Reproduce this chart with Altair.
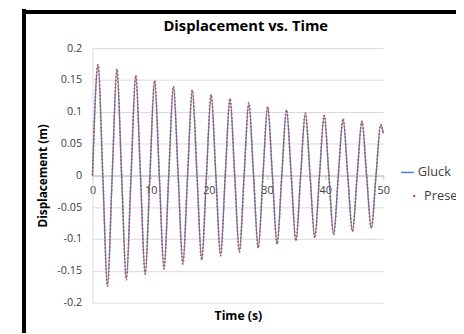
import altair as alt
import pandas as pd

# ---- data ----
time_s = [0.00, 0.96, 1.77, 2.58, 3.39, 4.20, 5.01, 5.82, 6.63, 7.44, 8.25, 9.06,
          9.87, 10.68, 11.49, 12.30, 13.11, 13.92, 14.73, 15.54, 16.35, 17.16,
          17.97, 18.78, 19.59, 20.40, 21.21, 22.02, 22.83, 23.64, 24.45, 25.26,
          26.07, 26.88, 27.69, 28.50, 29.31, 30.12, 30.93, 31.74, 32.55, 33.36,
          34.17, 34.98, 35.79, 36.60, 37.41, 38.22, 39.03, 39.84, 40.65, 41.46,
          42.27, 43.08, 43.89, 44.70, 45.51, 46.32, 47.13, 47.94, 48.75, 49.56,
          50.00]
gluck_m = [0.000, 0.174, 0.000, -0.174, 0.000, 0.167, 0.000, -0.164, 0.000, 0.157,
           0.000, -0.155, 0.000, 0.149, 0.000, -0.147, 0.000, 0.140, 0.000, -0.139,
           0.000, 0.134, 0.000, -0.133, 0.000, 0.127, 0.000, -0.126, 0.000, 0.121,
           0.000, -0.120, 0.000, 0.114, 0.000, -0.114, 0.000, 0.108, 0.000, -0.108,
           0.000, 0.103, 0.000, -0.103, 0.000, 0.098, 0.000, -0.098, 0.000, 0.094,
           0.000, -0.093, 0.000, 0.089, 0.000, -0.088, 0.000, 0.085, 0.000, -0.083,
           0.000, 0.080, 0.066]
present_m = [0.000, 0.174, 0.000, -0.174, 0.000, 0.167, 0.000, -0.164, 0.000, 0.157,
             0.000, -0.155, 0.000, 0.149, 0.000, -0.147, 0.000, 0.140, 0.000, -0.139,
             0.000, 0.134, 0.000, -0.133, 0.000, 0.127, 0.000, -0.126, 0.000, 0.121,
             0.000, -0.120, 0.000, 0.114, 0.000, -0.114, 0.000, 0.108, 0.000, -0.108,
             0.000, 0.103, 0.000, -0.103, 0.000, 0.098, 0.000, -0.098, 0.000, 0.094,
             0.000, -0.093, 0.000, 0.089, 0.000, -0.088, 0.000, 0.085, 0.000, -0.083,
             0.000, 0.080, 0.066]
series_names = ["Gluck", "Present"]
series_colors = ["#4F81BD", "#C0504D"]
x_ticks = [0, 10, 20, 30, 40, 50]
y_ticks = [-0.2, -0.15, -0.1, -0.05, 0, 0.05, 0.1, 0.15, 0.2]
chart_title = "Displacement vs. Time"

df = pd.concat([
    pd.DataFrame({"t": time_s, "d": gluck_m, "series": series_names[0]}),
    pd.DataFrame({"t": time_s, "d": present_m, "series": series_names[1]}),
])

FONT = "Open Sans"
W, H = 296, 259

x_enc = alt.X("t:Q", scale=alt.Scale(domain=[0, 50], nice=False),
              axis=alt.Axis(values=x_ticks, offset=-129.5, grid=False,
                            title="Time (s)", titleY=143, titleBaseline="middle",
                            titleFontWeight="bold", titleFontSize=12.5,
                            labelFontSize=11, labelColor="#404040",
                            tickSize=4, tickColor="#BFBFBF", labelPadding=5,
                            domainColor="#BFBFBF", labelFlush=False))
y_enc = alt.Y("d:Q", scale=alt.Scale(domain=[-0.2, 0.2], nice=False),
              axis=alt.Axis(values=y_ticks, grid=True, gridColor="#D9D9D9",
                            labelExpr="datum.value < 0 ? '-' + format(-datum.value, '~g') : format(datum.value, '~g')",
                            title="Displacement (m)", titleFontWeight="bold",
                            titleFontSize=12, titlePadding=7,
                            labelFontSize=11, labelColor="#404040",
                            ticks=False, labelPadding=11,
                            domainColor="#D9D9D9"))

gluck_color = alt.Color("series:N",
                        scale=alt.Scale(domain=series_names[:1], range=series_colors[:1]),
                        legend=alt.Legend(title=None, orient="none", legendX=313, legendY=119,
                                          symbolType="stroke", symbolSize=169,
                                          symbolStrokeWidth=1.5, labelFontSize=13,
                                          labelColor="#404040", labelOffset=3))
present_color = alt.Color("series:N",
                          scale=alt.Scale(domain=series_names[1:], range=series_colors[1:]),
                          legend=alt.Legend(title=None, orient="none", legendX=321, legendY=144,
                                            symbolType="circle", symbolSize=6,
                                            symbolStrokeWidth=0, symbolFillColor="#C0504D",
                                            labelFontSize=13,
                                            labelColor="#404040", labelOffset=3.5))

gluck = alt.Chart(df).transform_filter(alt.datum.series == "Gluck").mark_line(
    interpolate="monotone", strokeWidth=1.3).encode(x=x_enc, y=y_enc, color=gluck_color)
present = alt.Chart(df).transform_filter(alt.datum.series == "Present").mark_line(
    interpolate="monotone", strokeWidth=1.8, strokeDash=[1.4, 2.2]).encode(
    x=x_enc, y=y_enc, color=present_color)

frame_left = alt.Chart(df).mark_rule(color="black", strokeWidth=3).encode(
    x=alt.value(-70), y=alt.value(-40), y2=alt.value(H + 40))
frame_top = alt.Chart(df).mark_rule(color="black", strokeWidth=3).encode(
    x=alt.value(-71.5), x2=alt.value(W + 80), y=alt.value(-37))
title_text = alt.Chart(df).transform_filter(alt.datum.series == "Gluck").transform_aggregate(
    n="count()").mark_text(fontSize=15, fontWeight="bold", font=FONT, color="#000000",
                           baseline="middle", align="center").encode(
    x=alt.value(W / 2 + 8), y=alt.value(-23), text=alt.value(chart_title))

chart = alt.layer(gluck, present, frame_left, frame_top, title_text).resolve_scale(
    color="independent"
).properties(
    width=W, height=H,
    autosize=alt.AutoSizeParams(type="none"),
    padding={"left": 86, "top": 38, "right": 74, "bottom": 28},
).configure(font=FONT).configure_view(stroke=None).configure_axis(
    labelFont=FONT, titleFont=FONT, titleColor="#000000"
).configure_legend(labelFont=FONT)

chart.save("out.html", embed_options={"renderer": "svg", "actions": False})
